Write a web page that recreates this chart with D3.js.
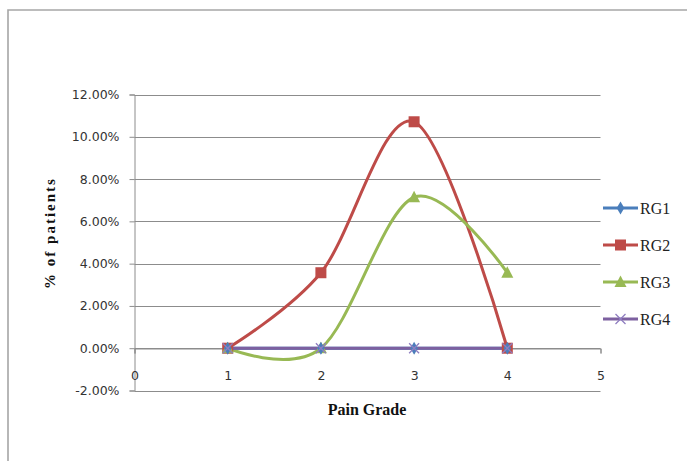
<!DOCTYPE html>
<html>
<head>
<meta charset="utf-8">
<script src="https://cdn.jsdelivr.net/npm/d3@7"></script>
<style>
  html, body { margin: 0; padding: 0; background: #fff; }
  svg { display: block; }
</style>
</head>
<body>
<svg id="chart" width="687" height="461"></svg>
<script>
// Pain grade categories (x positions) and the share of patients per group, in %
const grades = [1, 2, 3, 4];
const rg1 = [0, 0, 0, 0];
const rg2 = [0, 3.57, 10.71, 0];
const rg3 = [0, 0, 7.14, 3.57];
const rg4 = [0, 0, 0, 0];
const seriesNames = ["RG1", "RG2", "RG3", "RG4"];
const xTicks = [0, 1, 2, 3, 4, 5];
const yTicks = [-2, 0, 2, 4, 6, 8, 10, 12];

const colors = { RG1: "#4a7ebb", RG2: "#be4b48", RG3: "#98b954", RG4: "#7d60a0" };
const series = [
  { name: "RG1", values: rg1 },
  { name: "RG2", values: rg2 },
  { name: "RG3", values: rg3 },
  { name: "RG4", values: rg4 }
];

const svg = d3.select("#chart");

// outer chart frame
svg.append("path")
  .attr("d", "M8,470 L8,10 L700,10")
  .attr("fill", "none")
  .attr("stroke", "#a6a6a6")
  .attr("stroke-width", 1.6);

const x = d3.scaleLinear().domain([0, 5]).range([134.5, 600.5]);
const y = d3.scaleLinear().domain([-2, 12]).range([390.5, 94.5]);

// horizontal gridlines
svg.append("g")
  .selectAll("line")
  .data(yTicks)
  .join("line")
  .attr("x1", 134.5).attr("x2", 600.5)
  .attr("y1", d => Math.round(y(d)) + 0.5)
  .attr("y2", d => Math.round(y(d)) + 0.5)
  .attr("stroke", "#8c8c8c")
  .attr("stroke-width", 1);

const tickFont = "'DejaVu Sans', Verdana, sans-serif";

// value axis
const yAxis = svg.append("g")
  .attr("transform", "translate(134.5,0)")
  .call(d3.axisLeft(y).tickValues(yTicks).tickSize(5).tickPadding(10)
    .tickFormat(d => (d < 0 ? "-" : "") + d3.format(".2f")(Math.abs(d)) + "%"));
yAxis.select(".domain").attr("stroke", "#8c8c8c");
yAxis.selectAll(".tick line").attr("stroke", "#8c8c8c");
yAxis.selectAll(".tick text")
  .attr("fill", "#333")
  .style("font-family", tickFont)
  .style("font-size", "12.5px");

// category axis, crossing at zero
const xAxis = svg.append("g")
  .attr("transform", `translate(0,${Math.round(y(0)) + 0.5})`)
  .call(d3.axisBottom(x).tickValues(xTicks).tickSize(5).tickPadding(18)
    .tickFormat(d3.format("d")));
xAxis.select(".domain").attr("stroke", "#8c8c8c");
xAxis.selectAll(".tick line").attr("stroke", "#8c8c8c");
xAxis.selectAll(".tick text")
  .attr("fill", "#333")
  .style("font-family", tickFont)
  .style("font-size", "12.5px");

// axis titles
svg.append("text")
  .attr("x", 367).attr("y", 415)
  .attr("text-anchor", "middle")
  .style("font-family", "'Liberation Serif', 'Times New Roman', serif")
  .style("font-weight", "bold")
  .style("font-size", "16px")
  .attr("fill", "#111")
  .text("Pain Grade");

svg.append("text")
  .attr("transform", "translate(55,233) rotate(-90)")
  .attr("text-anchor", "middle")
  .style("font-family", "'Liberation Serif', 'Times New Roman', serif")
  .style("font-weight", "bold")
  .style("font-size", "15px")
  .style("letter-spacing", "2px")
  .attr("fill", "#111")
  .text("% of patients");

// smoothed series lines
const line = d3.line()
  .x((d, i) => x(grades[i]))
  .y(d => y(d))
  .curve(d3.curveCardinal.tension(0));

const drawOrder = ["RG2", "RG3", "RG1", "RG4"];

function marker(g, name, cx, cy) {
  const c = colors[name];
  if (name === "RG1") {
    g.append("path")
      .attr("d", d3.symbol(d3.symbolDiamond, 50)())
      .attr("transform", `translate(${cx},${cy})`)
      .attr("fill", c);
  } else if (name === "RG2") {
    g.append("rect")
      .attr("x", cx - 5.5).attr("y", cy - 5.5)
      .attr("width", 11).attr("height", 11)
      .attr("fill", c);
  } else if (name === "RG3") {
    g.append("path")
      .attr("d", `M${cx},${cy - 6.5} L${cx + 6},${cy + 5} L${cx - 6},${cy + 5} Z`)
      .attr("fill", c);
  } else {
    g.append("path")
      .attr("d", `M${cx - 5},${cy - 5} L${cx + 5},${cy + 5} M${cx - 5},${cy + 5} L${cx + 5},${cy - 5}`)
      .attr("stroke", "#8f7ec0")
      .attr("stroke-width", 1.3)
      .attr("fill", "none");
  }
}

const plot = svg.append("g");
drawOrder.forEach(name => {
  const s = series.find(d => d.name === name);
  plot.append("path")
    .datum(s.values)
    .attr("d", line)
    .attr("fill", "none")
    .attr("stroke", colors[name])
    .attr("stroke-width", 3);
});
drawOrder.forEach(name => {
  const s = series.find(d => d.name === name);
  const g = plot.append("g");
  s.values.forEach((v, i) => marker(g, name, x(grades[i]), y(v)));
});

// legend
const legend = svg.append("g");
seriesNames.forEach((name, i) => {
  const ly = 208 + i * 37;
  const g = legend.append("g");
  g.append("line")
    .attr("x1", 603).attr("x2", 638)
    .attr("y1", ly).attr("y2", ly)
    .attr("stroke", colors[name])
    .attr("stroke-width", 3);
  marker(g, name, 620.5, ly);
  g.append("text")
    .attr("x", 640).attr("y", ly + 5.5)
    .style("font-family", "'Liberation Serif', 'Times New Roman', serif")
    .style("font-size", "16px")
    .attr("fill", "#222")
    .text(name);
});
</script>
</body>
</html>
